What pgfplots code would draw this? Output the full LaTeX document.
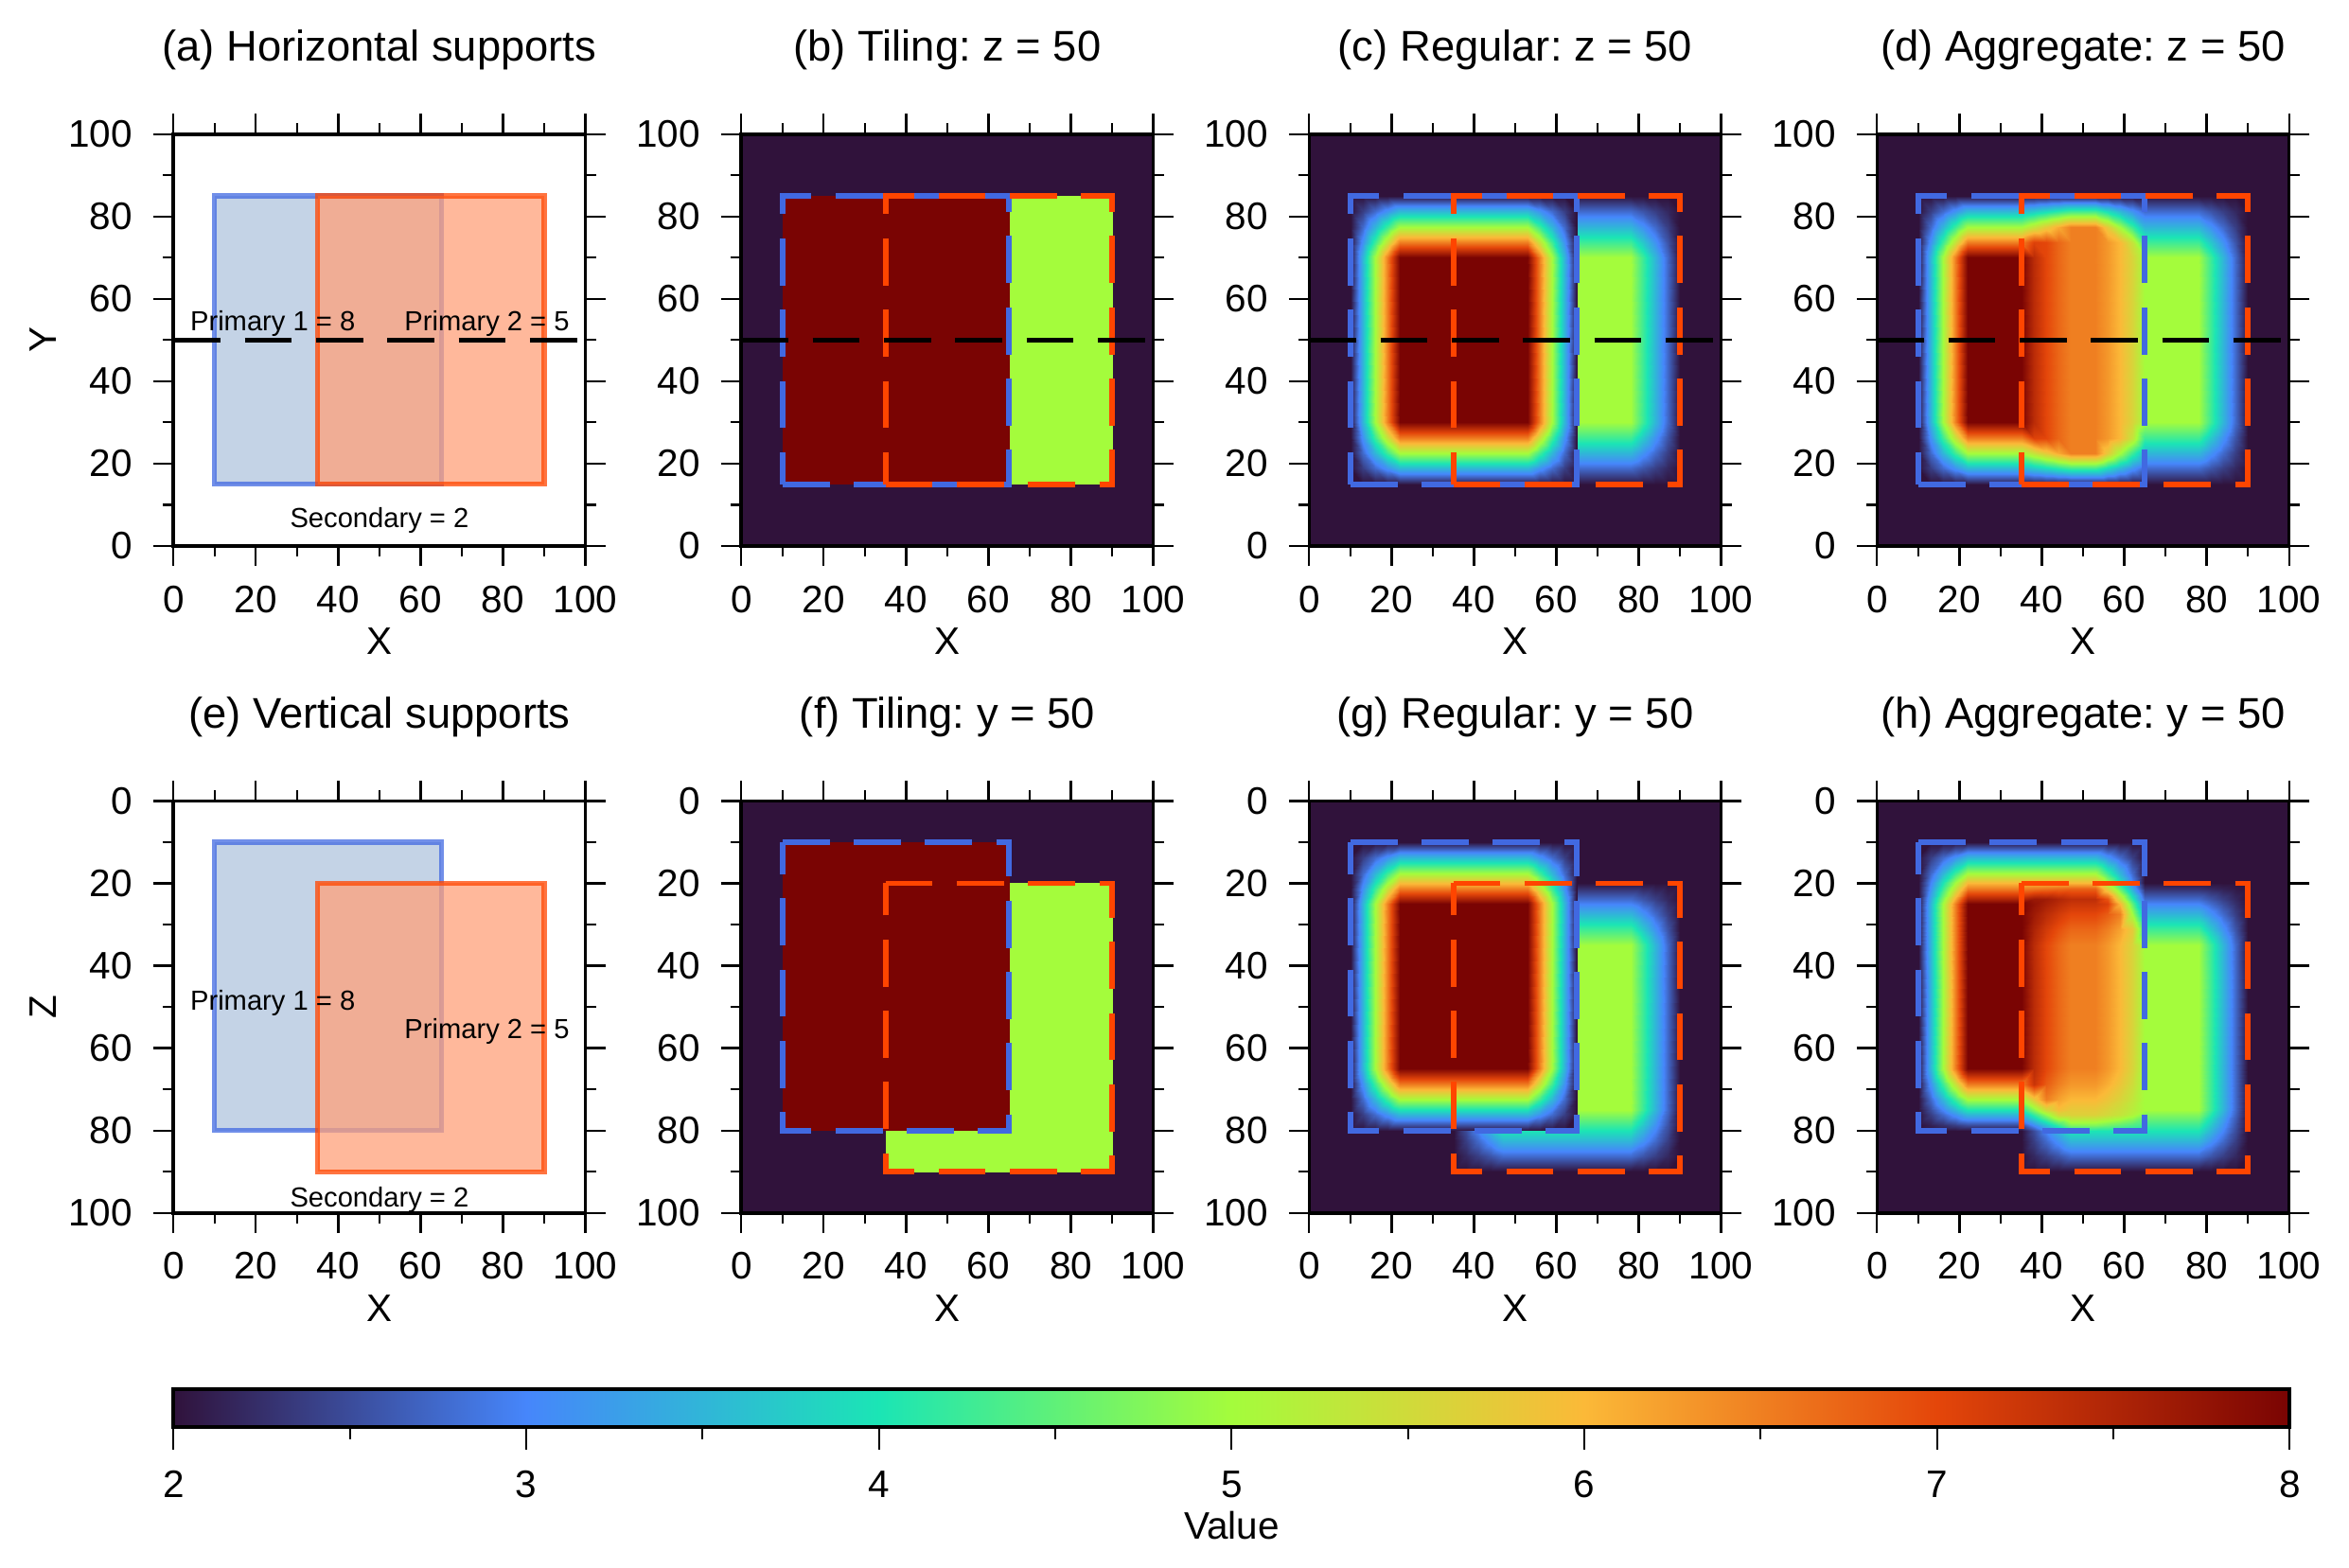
\documentclass[border=0pt]{standalone}
\usepackage{pgfplots}
\pgfplotsset{compat=1.18}
\usepackage{fontspec}
\setmainfont{Liberation Sans}
\frenchspacing

\definecolor{boxone}{HTML}{4169E1}
\definecolor{boxtwo}{HTML}{FF4500}
\definecolor{fillone}{HTML}{B0C4DE}
\definecolor{filltwo}{HTML}{FFA07A}

\tikzset{lbl/.style={font=\fontsize{7.2}{8.5}\selectfont, anchor=base, inner sep=0pt}}
\pgfplotsset{
  colormap={turbo7}{rgb255=(48,18,59) rgb255=(70,134,251) rgb255=(27,229,181)
    rgb255=(164,252,60) rgb255=(251,185,56) rgb255=(228,70,10) rgb255=(122,4,3)},
  panel/.style={
    anchor=south west, width=107.5pt, height=107.5pt, scale only axis,
    xmin=0, xmax=100, ymin=0, ymax=100,
    xtick={0,20,...,100}, ytick={0,20,...,100}, minor tick num=1,
    tick align=outside, major tick length=5.3pt, minor tick length=2.8pt,
    axis line style={line width=0.9pt}, tick style={black, line width=0.55pt},
    /pgf/number format/assume math mode=true,
    tick label style={font=\fontsize{10}{12}\selectfont},
    xticklabel style={anchor=base, inner sep=0pt, yshift=-12.0pt},
    yticklabel style={anchor=east, inner sep=0pt, xshift=-5.2pt},
    label style={font=\fontsize{10}{12}\selectfont},
    xlabel={X},
    xlabel style={at={(axis description cs:0.5,-0.264)}, anchor=base},
    ylabel style={at={(axis description cs:-0.284,0.5)}, anchor=base},
    title style={at={(axis description cs:0.5,1.121)}, anchor=base, yshift=0pt,
      font=\fontsize{11.2}{13}\selectfont},
    axis on top,
    colormap name=turbo7, point meta min=2, point meta max=8,
  },
  heat/.style={surf, shader=interp, point meta=explicit},
  boxline/.style={line width=1.45pt, dash pattern=on 12.3pt off 6.3pt, line join=miter},
  cut/.style={black, line width=1.35pt, dash pattern=on 12.3pt off 6.3pt},
  solidbox/.style={line width=1.3pt, line join=miter, fill opacity=0.75, draw opacity=0.75},
}

\begin{document}
\begin{tikzpicture}
\path[use as bounding box] (0pt,0pt) rectangle (613pt,409.24pt);

% ---------------- (a) horizontal supports
\begin{axis}[panel, at={(45.27pt,266.74pt)}, title={(a) Horizontal supports}, ylabel={Y}]
\addplot[solidbox, fill=fillone, draw=boxone] coordinates {(10,15) (65,15) (65,85) (10,85)} -- cycle;
\addplot[solidbox, fill=filltwo, draw=boxtwo] coordinates {(35,15) (90,15) (90,85) (35,85)} -- cycle;
\addplot[cut] coordinates {(0,50) (100,50)};
\node[lbl] at (axis cs:24.1,52.2) {Primary 1 = 8};
\node[lbl] at (axis cs:76.1,52.2) {Primary 2 = 5};
\node[lbl] at (axis cs:50,4.4) {Secondary = 2};
\end{axis}

% ---------------- (b) tiling z=50
\begin{axis}[panel, at={(193.46pt,266.74pt)}, title={(b) Tiling: z = 50}]
\addplot[heat, mesh/cols=2] table[row sep=\\, meta index=2] {0 0 2\\ 100 0 2\\ 0 100 2\\ 100 100 2\\};
\addplot[heat, mesh/cols=2] table[row sep=\\, meta index=2] {35 15 5\\ 90 15 5\\ 35 85 5\\ 90 85 5\\};
\addplot[heat, mesh/cols=2] table[row sep=\\, meta index=2] {10 15 8\\ 65 15 8\\ 10 85 8\\ 65 85 8\\};
\addplot[boxline, boxone] coordinates {(10,15) (65,15) (65,85) (10,85)} -- cycle;
\addplot[boxline, boxtwo] coordinates {(35,15) (90,15) (90,85) (35,85)} -- cycle;
\addplot[cut] coordinates {(0,50) (100,50)};
\end{axis}

% ---------------- (c) regular z=50
\begin{axis}[panel, at={(341.65pt,266.74pt)}, title={(c) Regular: z = 50}]
\addplot[heat, mesh/cols=2] table[row sep=\\, meta index=2] {0 0 2\\ 100 0 2\\ 0 100 2\\ 100 100 2\\};
\addplot[heat, mesh/cols=10] table[row sep=\\, meta index=2] {
35 15 2\\ 38 15 2\\ 41 15 2\\ 44 15 2\\ 47 15 2\\ 78 15 2\\ 81 15 2\\ 84 15 2\\ 87 15 2\\ 90 15 2\\
35 18.75 2\\ 38 18.75 2.1875\\ 41 18.75 2.375\\ 44 18.75 2.5625\\ 47 18.75 2.75\\ 78 18.75 2.75\\ 81 18.75 2.5625\\ 84 18.75 2.375\\ 87 18.75 2.1875\\ 90 18.75 2\\
35 22.5 2\\ 38 22.5 2.375\\ 41 22.5 2.75\\ 44 22.5 3.125\\ 47 22.5 3.5\\ 78 22.5 3.5\\ 81 22.5 3.125\\ 84 22.5 2.75\\ 87 22.5 2.375\\ 90 22.5 2\\
35 26.25 2\\ 38 26.25 2.5625\\ 41 26.25 3.125\\ 44 26.25 3.6875\\ 47 26.25 4.25\\ 78 26.25 4.25\\ 81 26.25 3.6875\\ 84 26.25 3.125\\ 87 26.25 2.5625\\ 90 26.25 2\\
35 30 2\\ 38 30 2.75\\ 41 30 3.5\\ 44 30 4.25\\ 47 30 5\\ 78 30 5\\ 81 30 4.25\\ 84 30 3.5\\ 87 30 2.75\\ 90 30 2\\
35 70 2\\ 38 70 2.75\\ 41 70 3.5\\ 44 70 4.25\\ 47 70 5\\ 78 70 5\\ 81 70 4.25\\ 84 70 3.5\\ 87 70 2.75\\ 90 70 2\\
35 73.75 2\\ 38 73.75 2.5625\\ 41 73.75 3.125\\ 44 73.75 3.6875\\ 47 73.75 4.25\\ 78 73.75 4.25\\ 81 73.75 3.6875\\ 84 73.75 3.125\\ 87 73.75 2.5625\\ 90 73.75 2\\
35 77.5 2\\ 38 77.5 2.375\\ 41 77.5 2.75\\ 44 77.5 3.125\\ 47 77.5 3.5\\ 78 77.5 3.5\\ 81 77.5 3.125\\ 84 77.5 2.75\\ 87 77.5 2.375\\ 90 77.5 2\\
35 81.25 2\\ 38 81.25 2.1875\\ 41 81.25 2.375\\ 44 81.25 2.5625\\ 47 81.25 2.75\\ 78 81.25 2.75\\ 81 81.25 2.5625\\ 84 81.25 2.375\\ 87 81.25 2.1875\\ 90 81.25 2\\
35 85 2\\ 38 85 2\\ 41 85 2\\ 44 85 2\\ 47 85 2\\ 78 85 2\\ 81 85 2\\ 84 85 2\\ 87 85 2\\ 90 85 2\\
};
\addplot[heat, mesh/cols=10] table[row sep=\\, meta index=2] {
10 15 2\\ 13 15 2\\ 16 15 2\\ 19 15 2\\ 22 15 2\\ 53 15 2\\ 56 15 2\\ 59 15 2\\ 62 15 2\\ 65 15 2\\
10 18.75 2\\ 13 18.75 2.375\\ 16 18.75 2.75\\ 19 18.75 3.125\\ 22 18.75 3.5\\ 53 18.75 3.5\\ 56 18.75 3.125\\ 59 18.75 2.75\\ 62 18.75 2.375\\ 65 18.75 2\\
10 22.5 2\\ 13 22.5 2.75\\ 16 22.5 3.5\\ 19 22.5 4.25\\ 22 22.5 5\\ 53 22.5 5\\ 56 22.5 4.25\\ 59 22.5 3.5\\ 62 22.5 2.75\\ 65 22.5 2\\
10 26.25 2\\ 13 26.25 3.125\\ 16 26.25 4.25\\ 19 26.25 5.375\\ 22 26.25 6.5\\ 53 26.25 6.5\\ 56 26.25 5.375\\ 59 26.25 4.25\\ 62 26.25 3.125\\ 65 26.25 2\\
10 30 2\\ 13 30 3.5\\ 16 30 5\\ 19 30 6.5\\ 22 30 8\\ 53 30 8\\ 56 30 6.5\\ 59 30 5\\ 62 30 3.5\\ 65 30 2\\
10 70 2\\ 13 70 3.5\\ 16 70 5\\ 19 70 6.5\\ 22 70 8\\ 53 70 8\\ 56 70 6.5\\ 59 70 5\\ 62 70 3.5\\ 65 70 2\\
10 73.75 2\\ 13 73.75 3.125\\ 16 73.75 4.25\\ 19 73.75 5.375\\ 22 73.75 6.5\\ 53 73.75 6.5\\ 56 73.75 5.375\\ 59 73.75 4.25\\ 62 73.75 3.125\\ 65 73.75 2\\
10 77.5 2\\ 13 77.5 2.75\\ 16 77.5 3.5\\ 19 77.5 4.25\\ 22 77.5 5\\ 53 77.5 5\\ 56 77.5 4.25\\ 59 77.5 3.5\\ 62 77.5 2.75\\ 65 77.5 2\\
10 81.25 2\\ 13 81.25 2.375\\ 16 81.25 2.75\\ 19 81.25 3.125\\ 22 81.25 3.5\\ 53 81.25 3.5\\ 56 81.25 3.125\\ 59 81.25 2.75\\ 62 81.25 2.375\\ 65 81.25 2\\
10 85 2\\ 13 85 2\\ 16 85 2\\ 19 85 2\\ 22 85 2\\ 53 85 2\\ 56 85 2\\ 59 85 2\\ 62 85 2\\ 65 85 2\\
};
\addplot[boxline, boxone] coordinates {(10,15) (65,15) (65,85) (10,85)} -- cycle;
\addplot[boxline, boxtwo] coordinates {(35,15) (90,15) (90,85) (35,85)} -- cycle;
\addplot[cut] coordinates {(0,50) (100,50)};
\end{axis}

% ---------------- (d) aggregate z=50
\begin{axis}[panel, at={(489.84pt,266.74pt)}, title={(d) Aggregate: z = 50}]
\addplot[heat, mesh/cols=2] table[row sep=\\, meta index=2] {0 0 2\\ 100 0 2\\ 0 100 2\\ 100 100 2\\};
\addplot[heat, mesh/cols=20] table[row sep=\\, meta index=2] {
10 15 2\\ 13 15 2\\ 16 15 2\\ 19 15 2\\ 22 15 2\\ 35 15 2\\ 38 15 2\\ 41 15 2\\ 44 15 2\\ 47 15 2\\ 53 15 2\\ 56 15 2\\ 59 15 2\\ 62 15 2\\ 65 15 2\\ 78 15 2\\ 81 15 2\\ 84 15 2\\ 87 15 2\\ 90 15 2\\
10 18.75 2\\ 13 18.75 2.375\\ 16 18.75 2.75\\ 19 18.75 3.125\\ 22 18.75 3.5\\ 35 18.75 3.5\\ 38 18.75 3.6875\\ 41 18.75 3.875\\ 44 18.75 4.0625\\ 47 18.75 4.25\\ 53 18.75 4.25\\ 56 18.75 3.875\\ 59 18.75 3.5\\ 62 18.75 3.125\\ 65 18.75 2.75\\ 78 18.75 2.75\\ 81 18.75 2.5625\\ 84 18.75 2.375\\ 87 18.75 2.1875\\ 90 18.75 2\\
10 22.5 2\\ 13 22.5 2.75\\ 16 22.5 3.5\\ 19 22.5 4.25\\ 22 22.5 5\\ 35 22.5 5\\ 38 22.5 5.375\\ 41 22.5 5.75\\ 44 22.5 6.125\\ 47 22.5 6.5\\ 53 22.5 6.5\\ 56 22.5 5.75\\ 59 22.5 5\\ 62 22.5 4.25\\ 65 22.5 3.5\\ 78 22.5 3.5\\ 81 22.5 3.125\\ 84 22.5 2.75\\ 87 22.5 2.375\\ 90 22.5 2\\
10 26.25 2\\ 13 26.25 3.125\\ 16 26.25 4.25\\ 19 26.25 5.375\\ 22 26.25 6.5\\ 35 26.25 6.5\\ 38 26.25 7.0625\\ 41 26.25 7\\ 44 26.25 6.714\\ 47 26.25 6.5\\ 53 26.25 6.5\\ 56 26.25 6.286\\ 59 26.25 6\\ 62 26.25 5.375\\ 65 26.25 4.25\\ 78 26.25 4.25\\ 81 26.25 3.6875\\ 84 26.25 3.125\\ 87 26.25 2.5625\\ 90 26.25 2\\
10 30 2\\ 13 30 3.5\\ 16 30 5\\ 19 30 6.5\\ 22 30 8\\ 35 30 8\\ 38 30 7.4\\ 41 30 7\\ 44 30 6.714\\ 47 30 6.5\\ 53 30 6.5\\ 56 30 6.286\\ 59 30 6\\ 62 30 5.6\\ 65 30 5\\ 78 30 5\\ 81 30 4.25\\ 84 30 3.5\\ 87 30 2.75\\ 90 30 2\\
10 70 2\\ 13 70 3.5\\ 16 70 5\\ 19 70 6.5\\ 22 70 8\\ 35 70 8\\ 38 70 7.4\\ 41 70 7\\ 44 70 6.714\\ 47 70 6.5\\ 53 70 6.5\\ 56 70 6.286\\ 59 70 6\\ 62 70 5.6\\ 65 70 5\\ 78 70 5\\ 81 70 4.25\\ 84 70 3.5\\ 87 70 2.75\\ 90 70 2\\
10 73.75 2\\ 13 73.75 3.125\\ 16 73.75 4.25\\ 19 73.75 5.375\\ 22 73.75 6.5\\ 35 73.75 6.5\\ 38 73.75 7.0625\\ 41 73.75 7\\ 44 73.75 6.714\\ 47 73.75 6.5\\ 53 73.75 6.5\\ 56 73.75 6.286\\ 59 73.75 6\\ 62 73.75 5.375\\ 65 73.75 4.25\\ 78 73.75 4.25\\ 81 73.75 3.6875\\ 84 73.75 3.125\\ 87 73.75 2.5625\\ 90 73.75 2\\
10 77.5 2\\ 13 77.5 2.75\\ 16 77.5 3.5\\ 19 77.5 4.25\\ 22 77.5 5\\ 35 77.5 5\\ 38 77.5 5.375\\ 41 77.5 5.75\\ 44 77.5 6.125\\ 47 77.5 6.5\\ 53 77.5 6.5\\ 56 77.5 5.75\\ 59 77.5 5\\ 62 77.5 4.25\\ 65 77.5 3.5\\ 78 77.5 3.5\\ 81 77.5 3.125\\ 84 77.5 2.75\\ 87 77.5 2.375\\ 90 77.5 2\\
10 81.25 2\\ 13 81.25 2.375\\ 16 81.25 2.75\\ 19 81.25 3.125\\ 22 81.25 3.5\\ 35 81.25 3.5\\ 38 81.25 3.6875\\ 41 81.25 3.875\\ 44 81.25 4.0625\\ 47 81.25 4.25\\ 53 81.25 4.25\\ 56 81.25 3.875\\ 59 81.25 3.5\\ 62 81.25 3.125\\ 65 81.25 2.75\\ 78 81.25 2.75\\ 81 81.25 2.5625\\ 84 81.25 2.375\\ 87 81.25 2.1875\\ 90 81.25 2\\
10 85 2\\ 13 85 2\\ 16 85 2\\ 19 85 2\\ 22 85 2\\ 35 85 2\\ 38 85 2\\ 41 85 2\\ 44 85 2\\ 47 85 2\\ 53 85 2\\ 56 85 2\\ 59 85 2\\ 62 85 2\\ 65 85 2\\ 78 85 2\\ 81 85 2\\ 84 85 2\\ 87 85 2\\ 90 85 2\\
};
\addplot[boxline, boxone] coordinates {(10,15) (65,15) (65,85) (10,85)} -- cycle;
\addplot[boxline, boxtwo] coordinates {(35,15) (90,15) (90,85) (35,85)} -- cycle;
\addplot[cut] coordinates {(0,50) (100,50)};
\end{axis}

% ---------------- (e) vertical supports
\begin{axis}[panel, at={(45.27pt,92.69pt)}, y dir=reverse, title={(e) Vertical supports}, ylabel={Z}]
\addplot[solidbox, fill=fillone, draw=boxone] coordinates {(10,10) (65,10) (65,80) (10,80)} -- cycle;
\addplot[solidbox, fill=filltwo, draw=boxtwo] coordinates {(35,20) (90,20) (90,90) (35,90)} -- cycle;
\node[lbl] at (axis cs:24.1,50.8) {Primary 1 = 8};
\node[lbl] at (axis cs:76.1,57.7) {Primary 2 = 5};
\node[lbl] at (axis cs:50,98.5) {Secondary = 2};
\end{axis}

% ---------------- (f) tiling y=50
\begin{axis}[panel, at={(193.46pt,92.69pt)}, y dir=reverse, title={(f) Tiling: y = 50}]
\addplot[heat, mesh/cols=2] table[row sep=\\, meta index=2] {0 0 2\\ 100 0 2\\ 0 100 2\\ 100 100 2\\};
\addplot[heat, mesh/cols=2] table[row sep=\\, meta index=2] {35 20 5\\ 90 20 5\\ 35 90 5\\ 90 90 5\\};
\addplot[heat, mesh/cols=2] table[row sep=\\, meta index=2] {10 10 8\\ 65 10 8\\ 10 80 8\\ 65 80 8\\};
\addplot[boxline, boxone] coordinates {(10,10) (65,10) (65,80) (10,80)} -- cycle;
\addplot[boxline, boxtwo] coordinates {(35,20) (90,20) (90,90) (35,90)} -- cycle;
\end{axis}

% ---------------- (g) regular y=50
\begin{axis}[panel, at={(341.65pt,92.69pt)}, y dir=reverse, title={(g) Regular: y = 50}]
\addplot[heat, mesh/cols=2] table[row sep=\\, meta index=2] {0 0 2\\ 100 0 2\\ 0 100 2\\ 100 100 2\\};
\addplot[heat, mesh/cols=10] table[row sep=\\, meta index=2] {
35 20 2\\ 38 20 2\\ 41 20 2\\ 44 20 2\\ 47 20 2\\ 78 20 2\\ 81 20 2\\ 84 20 2\\ 87 20 2\\ 90 20 2\\
35 23.75 2\\ 38 23.75 2.1875\\ 41 23.75 2.375\\ 44 23.75 2.5625\\ 47 23.75 2.75\\ 78 23.75 2.75\\ 81 23.75 2.5625\\ 84 23.75 2.375\\ 87 23.75 2.1875\\ 90 23.75 2\\
35 27.5 2\\ 38 27.5 2.375\\ 41 27.5 2.75\\ 44 27.5 3.125\\ 47 27.5 3.5\\ 78 27.5 3.5\\ 81 27.5 3.125\\ 84 27.5 2.75\\ 87 27.5 2.375\\ 90 27.5 2\\
35 31.25 2\\ 38 31.25 2.5625\\ 41 31.25 3.125\\ 44 31.25 3.6875\\ 47 31.25 4.25\\ 78 31.25 4.25\\ 81 31.25 3.6875\\ 84 31.25 3.125\\ 87 31.25 2.5625\\ 90 31.25 2\\
35 35 2\\ 38 35 2.75\\ 41 35 3.5\\ 44 35 4.25\\ 47 35 5\\ 78 35 5\\ 81 35 4.25\\ 84 35 3.5\\ 87 35 2.75\\ 90 35 2\\
35 75 2\\ 38 75 2.75\\ 41 75 3.5\\ 44 75 4.25\\ 47 75 5\\ 78 75 5\\ 81 75 4.25\\ 84 75 3.5\\ 87 75 2.75\\ 90 75 2\\
35 78.75 2\\ 38 78.75 2.5625\\ 41 78.75 3.125\\ 44 78.75 3.6875\\ 47 78.75 4.25\\ 78 78.75 4.25\\ 81 78.75 3.6875\\ 84 78.75 3.125\\ 87 78.75 2.5625\\ 90 78.75 2\\
35 82.5 2\\ 38 82.5 2.375\\ 41 82.5 2.75\\ 44 82.5 3.125\\ 47 82.5 3.5\\ 78 82.5 3.5\\ 81 82.5 3.125\\ 84 82.5 2.75\\ 87 82.5 2.375\\ 90 82.5 2\\
35 86.25 2\\ 38 86.25 2.1875\\ 41 86.25 2.375\\ 44 86.25 2.5625\\ 47 86.25 2.75\\ 78 86.25 2.75\\ 81 86.25 2.5625\\ 84 86.25 2.375\\ 87 86.25 2.1875\\ 90 86.25 2\\
35 90 2\\ 38 90 2\\ 41 90 2\\ 44 90 2\\ 47 90 2\\ 78 90 2\\ 81 90 2\\ 84 90 2\\ 87 90 2\\ 90 90 2\\
};
\addplot[heat, mesh/cols=10] table[row sep=\\, meta index=2] {
10 10 2\\ 13 10 2\\ 16 10 2\\ 19 10 2\\ 22 10 2\\ 53 10 2\\ 56 10 2\\ 59 10 2\\ 62 10 2\\ 65 10 2\\
10 13.75 2\\ 13 13.75 2.375\\ 16 13.75 2.75\\ 19 13.75 3.125\\ 22 13.75 3.5\\ 53 13.75 3.5\\ 56 13.75 3.125\\ 59 13.75 2.75\\ 62 13.75 2.375\\ 65 13.75 2\\
10 17.5 2\\ 13 17.5 2.75\\ 16 17.5 3.5\\ 19 17.5 4.25\\ 22 17.5 5\\ 53 17.5 5\\ 56 17.5 4.25\\ 59 17.5 3.5\\ 62 17.5 2.75\\ 65 17.5 2\\
10 21.25 2\\ 13 21.25 3.125\\ 16 21.25 4.25\\ 19 21.25 5.375\\ 22 21.25 6.5\\ 53 21.25 6.5\\ 56 21.25 5.375\\ 59 21.25 4.25\\ 62 21.25 3.125\\ 65 21.25 2\\
10 25 2\\ 13 25 3.5\\ 16 25 5\\ 19 25 6.5\\ 22 25 8\\ 53 25 8\\ 56 25 6.5\\ 59 25 5\\ 62 25 3.5\\ 65 25 2\\
10 65 2\\ 13 65 3.5\\ 16 65 5\\ 19 65 6.5\\ 22 65 8\\ 53 65 8\\ 56 65 6.5\\ 59 65 5\\ 62 65 3.5\\ 65 65 2\\
10 68.75 2\\ 13 68.75 3.125\\ 16 68.75 4.25\\ 19 68.75 5.375\\ 22 68.75 6.5\\ 53 68.75 6.5\\ 56 68.75 5.375\\ 59 68.75 4.25\\ 62 68.75 3.125\\ 65 68.75 2\\
10 72.5 2\\ 13 72.5 2.75\\ 16 72.5 3.5\\ 19 72.5 4.25\\ 22 72.5 5\\ 53 72.5 5\\ 56 72.5 4.25\\ 59 72.5 3.5\\ 62 72.5 2.75\\ 65 72.5 2\\
10 76.25 2\\ 13 76.25 2.375\\ 16 76.25 2.75\\ 19 76.25 3.125\\ 22 76.25 3.5\\ 53 76.25 3.5\\ 56 76.25 3.125\\ 59 76.25 2.75\\ 62 76.25 2.375\\ 65 76.25 2\\
10 80 2\\ 13 80 2\\ 16 80 2\\ 19 80 2\\ 22 80 2\\ 53 80 2\\ 56 80 2\\ 59 80 2\\ 62 80 2\\ 65 80 2\\
};
\addplot[boxline, boxone] coordinates {(10,10) (65,10) (65,80) (10,80)} -- cycle;
\addplot[boxline, boxtwo] coordinates {(35,20) (90,20) (90,90) (35,90)} -- cycle;
\end{axis}

% ---------------- (h) aggregate y=50
\begin{axis}[panel, at={(489.84pt,92.69pt)}, y dir=reverse, title={(h) Aggregate: y = 50}]
\addplot[heat, mesh/cols=2] table[row sep=\\, meta index=2] {0 0 2\\ 100 0 2\\ 0 100 2\\ 100 100 2\\};
\addplot[heat, mesh/cols=20] table[row sep=\\, meta index=2] {
10 10 2\\ 13 10 2\\ 16 10 2\\ 19 10 2\\ 22 10 2\\ 35 10 2\\ 38 10 2\\ 41 10 2\\ 44 10 2\\ 47 10 2\\ 53 10 2\\ 56 10 2\\ 59 10 2\\ 62 10 2\\ 65 10 2\\ 78 10 2\\ 81 10 2\\ 84 10 2\\ 87 10 2\\ 90 10 2\\
10 13.75 2\\ 13 13.75 2.375\\ 16 13.75 2.75\\ 19 13.75 3.125\\ 22 13.75 3.5\\ 35 13.75 3.5\\ 38 13.75 3.5\\ 41 13.75 3.5\\ 44 13.75 3.5\\ 47 13.75 3.5\\ 53 13.75 3.5\\ 56 13.75 3.125\\ 59 13.75 2.75\\ 62 13.75 2.375\\ 65 13.75 2\\ 78 13.75 2\\ 81 13.75 2\\ 84 13.75 2\\ 87 13.75 2\\ 90 13.75 2\\
10 17.5 2\\ 13 17.5 2.75\\ 16 17.5 3.5\\ 19 17.5 4.25\\ 22 17.5 5\\ 35 17.5 5\\ 38 17.5 5\\ 41 17.5 5\\ 44 17.5 5\\ 47 17.5 5\\ 53 17.5 5\\ 56 17.5 4.25\\ 59 17.5 3.5\\ 62 17.5 2.75\\ 65 17.5 2\\ 78 17.5 2\\ 81 17.5 2\\ 84 17.5 2\\ 87 17.5 2\\ 90 17.5 2\\
10 20 2\\ 13 20 3\\ 16 20 4\\ 19 20 5\\ 22 20 6\\ 35 20 6\\ 38 20 6\\ 41 20 6\\ 44 20 6\\ 47 20 6\\ 53 20 6\\ 56 20 5\\ 59 20 4\\ 62 20 3\\ 65 20 2\\ 78 20 2\\ 81 20 2\\ 84 20 2\\ 87 20 2\\ 90 20 2\\
10 21.25 2\\ 13 21.25 3.125\\ 16 21.25 4.25\\ 19 21.25 5.375\\ 22 21.25 6.5\\ 35 21.25 6.5\\ 38 21.25 6.5625\\ 41 21.25 6.625\\ 44 21.25 6.6875\\ 47 21.25 6.75\\ 53 21.25 6.75\\ 56 21.25 5.625\\ 59 21.25 4.5\\ 62 21.25 3.375\\ 65 21.25 2.25\\ 78 21.25 2.25\\ 81 21.25 2.1875\\ 84 21.25 2.125\\ 87 21.25 2.0625\\ 90 21.25 2\\
10 23.75 2\\ 13 23.75 3.375\\ 16 23.75 4.75\\ 19 23.75 6.125\\ 22 23.75 7.5\\ 35 23.75 7.5\\ 38 23.75 7.6875\\ 41 23.75 7.64\\ 44 23.75 7.49\\ 47 23.75 7.357\\ 53 23.75 7.357\\ 56 23.75 6.875\\ 59 23.75 5.5\\ 62 23.75 4.125\\ 65 23.75 2.75\\ 78 23.75 2.75\\ 81 23.75 2.5625\\ 84 23.75 2.375\\ 87 23.75 2.1875\\ 90 23.75 2\\
10 25 2\\ 13 25 3.5\\ 16 25 5\\ 19 25 6.5\\ 22 25 8\\ 35 25 8\\ 38 25 7.769\\ 41 25 7.571\\ 44 25 7.4\\ 47 25 7.25\\ 53 25 7.25\\ 56 25 7.077\\ 59 25 6\\ 62 25 4.5\\ 65 25 3\\ 78 25 3\\ 81 25 2.75\\ 84 25 2.5\\ 87 25 2.25\\ 90 25 2\\
10 27.5 2\\ 13 27.5 3.5\\ 16 27.5 5\\ 19 27.5 6.5\\ 22 27.5 8\\ 35 27.5 8\\ 38 27.5 7.667\\ 41 27.5 7.4\\ 44 27.5 7.182\\ 47 27.5 7\\ 53 27.5 7\\ 56 27.5 6.8\\ 59 27.5 6.5\\ 62 27.5 5\\ 65 27.5 3.5\\ 78 27.5 3.5\\ 81 27.5 3.125\\ 84 27.5 2.75\\ 87 27.5 2.375\\ 90 27.5 2\\
10 31.25 2\\ 13 31.25 3.5\\ 16 31.25 5\\ 19 31.25 6.5\\ 22 31.25 8\\ 35 31.25 8\\ 38 31.25 7.526\\ 41 31.25 7.182\\ 44 31.25 6.92\\ 47 31.25 6.714\\ 53 31.25 6.714\\ 56 31.25 6.5\\ 59 31.25 6.2\\ 62 31.25 5.75\\ 65 31.25 4.25\\ 78 31.25 4.25\\ 81 31.25 3.6875\\ 84 31.25 3.125\\ 87 31.25 2.5625\\ 90 31.25 2\\
10 35 2\\ 13 35 3.5\\ 16 35 5\\ 19 35 6.5\\ 22 35 8\\ 35 35 8\\ 38 35 7.4\\ 41 35 7\\ 44 35 6.714\\ 47 35 6.5\\ 53 35 6.5\\ 56 35 6.286\\ 59 35 6\\ 62 35 5.6\\ 65 35 5\\ 78 35 5\\ 81 35 4.25\\ 84 35 3.5\\ 87 35 2.75\\ 90 35 2\\
10 65 2\\ 13 65 3.5\\ 16 65 5\\ 19 65 6.5\\ 22 65 8\\ 35 65 8\\ 38 65 7.4\\ 41 65 7\\ 44 65 6.714\\ 47 65 6.5\\ 53 65 6.5\\ 56 65 6.286\\ 59 65 6\\ 62 65 5.6\\ 65 65 5\\ 78 65 5\\ 81 65 4.25\\ 84 65 3.5\\ 87 65 2.75\\ 90 65 2\\
10 68.75 2\\ 13 68.75 3.125\\ 16 68.75 4.25\\ 19 68.75 5.375\\ 22 68.75 6.5\\ 35 68.75 6.5\\ 38 68.75 7.25\\ 41 68.75 6.8\\ 44 68.75 6.5\\ 47 68.75 6.286\\ 53 68.75 6.286\\ 56 68.75 6.08\\ 59 68.75 5.818\\ 62 68.75 5.474\\ 65 68.75 5\\ 78 68.75 5\\ 81 68.75 4.25\\ 84 68.75 3.5\\ 87 68.75 2.75\\ 90 68.75 2\\
10 72.5 2\\ 13 72.5 2.75\\ 16 72.5 3.5\\ 19 72.5 4.25\\ 22 72.5 5\\ 35 72.5 5\\ 38 72.5 5.75\\ 41 72.5 6.5\\ 44 72.5 6.2\\ 47 72.5 6\\ 53 72.5 6\\ 56 72.5 5.818\\ 59 72.5 5.6\\ 62 72.5 5.333\\ 65 72.5 5\\ 78 72.5 5\\ 81 72.5 4.25\\ 84 72.5 3.5\\ 87 72.5 2.75\\ 90 72.5 2\\
10 75 2\\ 13 75 2.5\\ 16 75 3\\ 19 75 3.5\\ 22 75 4\\ 35 75 4\\ 38 75 4.75\\ 41 75 5.5\\ 44 75 5.923\\ 47 75 5.75\\ 53 75 5.75\\ 56 75 5.6\\ 59 75 5.429\\ 62 75 5.231\\ 65 75 5\\ 78 75 5\\ 81 75 4.25\\ 84 75 3.5\\ 87 75 2.75\\ 90 75 2\\
10 76.25 2\\ 13 76.25 2.375\\ 16 76.25 2.75\\ 19 76.25 3.125\\ 22 76.25 3.5\\ 35 76.25 3.5\\ 38 76.25 4.1875\\ 41 76.25 4.875\\ 44 76.25 5.5625\\ 47 76.25 5.643\\ 53 76.25 5.643\\ 56 76.25 5.509\\ 59 76.25 5.36\\ 62 76.25 5.125\\ 65 76.25 4.75\\ 78 76.25 4.75\\ 81 76.25 4.0625\\ 84 76.25 3.375\\ 87 76.25 2.6875\\ 90 76.25 2\\
10 78.75 2\\ 13 78.75 2.125\\ 16 78.75 2.25\\ 19 78.75 2.375\\ 22 78.75 2.5\\ 35 78.75 2.5\\ 38 78.75 3.0625\\ 41 78.75 3.625\\ 44 78.75 4.1875\\ 47 78.75 4.75\\ 53 78.75 4.75\\ 56 78.75 4.625\\ 59 78.75 4.5\\ 62 78.75 4.375\\ 65 78.75 4.25\\ 78 78.75 4.25\\ 81 78.75 3.6875\\ 84 78.75 3.125\\ 87 78.75 2.5625\\ 90 78.75 2\\
10 80 2\\ 13 80 2\\ 16 80 2\\ 19 80 2\\ 22 80 2\\ 35 80 2\\ 38 80 2.5\\ 41 80 3\\ 44 80 3.5\\ 47 80 4\\ 53 80 4\\ 56 80 4\\ 59 80 4\\ 62 80 4\\ 65 80 4\\ 78 80 4\\ 81 80 3.5\\ 84 80 3\\ 87 80 2.5\\ 90 80 2\\
10 82.5 2\\ 13 82.5 2\\ 16 82.5 2\\ 19 82.5 2\\ 22 82.5 2\\ 35 82.5 2\\ 38 82.5 2.375\\ 41 82.5 2.75\\ 44 82.5 3.125\\ 47 82.5 3.5\\ 53 82.5 3.5\\ 56 82.5 3.5\\ 59 82.5 3.5\\ 62 82.5 3.5\\ 65 82.5 3.5\\ 78 82.5 3.5\\ 81 82.5 3.125\\ 84 82.5 2.75\\ 87 82.5 2.375\\ 90 82.5 2\\
10 86.25 2\\ 13 86.25 2\\ 16 86.25 2\\ 19 86.25 2\\ 22 86.25 2\\ 35 86.25 2\\ 38 86.25 2.1875\\ 41 86.25 2.375\\ 44 86.25 2.5625\\ 47 86.25 2.75\\ 53 86.25 2.75\\ 56 86.25 2.75\\ 59 86.25 2.75\\ 62 86.25 2.75\\ 65 86.25 2.75\\ 78 86.25 2.75\\ 81 86.25 2.5625\\ 84 86.25 2.375\\ 87 86.25 2.1875\\ 90 86.25 2\\
10 90 2\\ 13 90 2\\ 16 90 2\\ 19 90 2\\ 22 90 2\\ 35 90 2\\ 38 90 2\\ 41 90 2\\ 44 90 2\\ 47 90 2\\ 53 90 2\\ 56 90 2\\ 59 90 2\\ 62 90 2\\ 65 90 2\\ 78 90 2\\ 81 90 2\\ 84 90 2\\ 87 90 2\\ 90 90 2\\
};
\addplot[boxline, boxone] coordinates {(10,10) (65,10) (65,80) (10,80)} -- cycle;
\addplot[boxline, boxtwo] coordinates {(35,20) (90,20) (90,90) (35,90)} -- cycle;
\end{axis}

% ---------------- colour bar
\begin{axis}[at={(45.27pt,36.68pt)}, anchor=south west, width=552.25pt, height=10pt, scale only axis,
  xmin=2, xmax=8, ymin=0, ymax=1, xtick={2,...,8}, minor x tick num=1, ytick=\empty,
  xtick pos=left, tick align=outside, major tick length=5.9pt, minor tick length=3pt,
  axis line style={line width=1pt}, tick style={black, line width=0.55pt},
  /pgf/number format/assume math mode=true,
  tick label style={font=\fontsize{10}{12}\selectfont},
  xticklabel style={anchor=base, inner sep=0pt, yshift=-12.3pt},
  xlabel={Value}, label style={font=\fontsize{10}{12}\selectfont},
  xlabel style={at={(axis description cs:0.5,-2.92)}, anchor=base},
  axis on top, colormap name=turbo7, point meta min=2, point meta max=8]
\addplot[heat, mesh/cols=7] table[row sep=\\, meta index=2] {
2 0 2\\ 3 0 3\\ 4 0 4\\ 5 0 5\\ 6 0 6\\ 7 0 7\\ 8 0 8\\
2 1 2\\ 3 1 3\\ 4 1 4\\ 5 1 5\\ 6 1 6\\ 7 1 7\\ 8 1 8\\
};
\end{axis}
\end{tikzpicture}
\end{document}
